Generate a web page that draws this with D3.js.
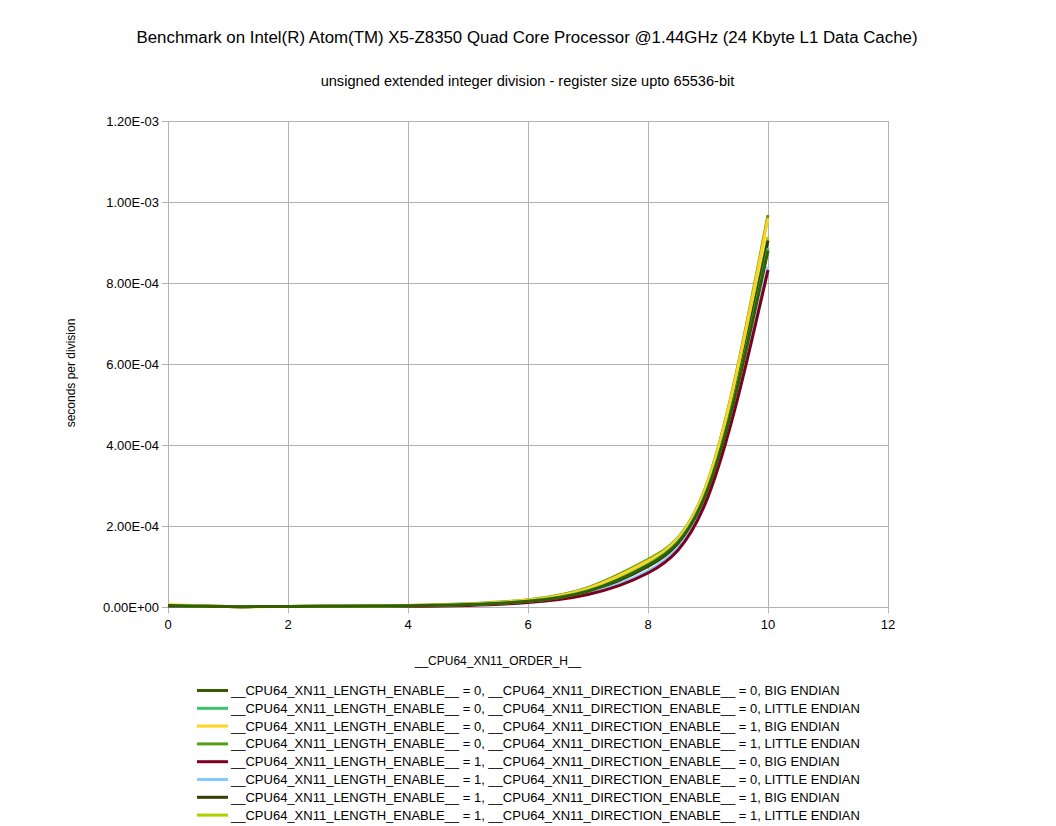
<!DOCTYPE html>
<html>
<head>
<meta charset="utf-8">
<script src="https://cdn.jsdelivr.net/npm/d3@7"></script>
<style>
body { margin: 0; background: #fff; }
text { font-family: "Liberation Sans", Arial, sans-serif; fill: #000; }
</style>
</head>
<body>
<div id="chart"></div>
<script>
// chart size
var w = 1056;
var h = 826;

var xValues = [0, 1, 2, 3, 4, 5, 6, 7, 8, 9, 10];

var seriesNames = [
	"__CPU64_XN11_LENGTH_ENABLE__ = 0, __CPU64_XN11_DIRECTION_ENABLE__ = 0, BIG ENDIAN",
	"__CPU64_XN11_LENGTH_ENABLE__ = 0, __CPU64_XN11_DIRECTION_ENABLE__ = 0, LITTLE ENDIAN",
	"__CPU64_XN11_LENGTH_ENABLE__ = 0, __CPU64_XN11_DIRECTION_ENABLE__ = 1, BIG ENDIAN",
	"__CPU64_XN11_LENGTH_ENABLE__ = 0, __CPU64_XN11_DIRECTION_ENABLE__ = 1, LITTLE ENDIAN",
	"__CPU64_XN11_LENGTH_ENABLE__ = 1, __CPU64_XN11_DIRECTION_ENABLE__ = 0, BIG ENDIAN",
	"__CPU64_XN11_LENGTH_ENABLE__ = 1, __CPU64_XN11_DIRECTION_ENABLE__ = 0, LITTLE ENDIAN",
	"__CPU64_XN11_LENGTH_ENABLE__ = 1, __CPU64_XN11_DIRECTION_ENABLE__ = 1, BIG ENDIAN",
	"__CPU64_XN11_LENGTH_ENABLE__ = 1, __CPU64_XN11_DIRECTION_ENABLE__ = 1, LITTLE ENDIAN"
];

var s1 = [3.5e-6, 1.0e-6, 1.5e-6, 2.0e-6, 3.0e-6, 6.0e-6, 1.4e-5, 3.9e-5, 1.03e-4, 2.92e-4, 8.80e-4];
var s2 = [3.5e-6, 1.0e-6, 1.5e-6, 2.0e-6, 3.0e-6, 6.0e-6, 1.4e-5, 4.0e-5, 1.05e-4, 2.95e-4, 8.86e-4];
var s3 = [6.0e-6, 1.0e-6, 1.5e-6, 2.0e-6, 4.0e-6, 7.5e-6, 1.7e-5, 4.6e-5, 1.14e-4, 3.10e-4, 9.60e-4];
var s4 = [4.0e-6, 1.0e-6, 1.5e-6, 2.0e-6, 3.5e-6, 8.0e-6, 1.8e-5, 4.8e-5, 1.17e-4, 3.12e-4, 9.68e-4];
var s5 = [2.5e-6, 1.0e-6, 1.2e-6, 1.8e-6, 2.0e-6, 4.0e-6, 1.1e-5, 3.1e-5, 8.4e-5, 2.72e-4, 8.32e-4];
var s6 = [2.5e-6, 1.0e-6, 1.2e-6, 1.8e-6, 2.5e-6, 5.0e-6, 1.2e-5, 3.4e-5, 8.9e-5, 2.78e-4, 8.40e-4];
var s7 = [3.0e-6, 1.0e-6, 1.5e-6, 2.0e-6, 3.0e-6, 6.0e-6, 1.4e-5, 3.8e-5, 1.00e-4, 2.95e-4, 9.05e-4];
var s8 = [3.0e-6, 1.0e-6, 1.5e-6, 2.0e-6, 3.0e-6, 6.0e-6, 1.5e-5, 4.1e-5, 1.06e-4, 3.00e-4, 9.14e-4];

var seriesValues = [s1, s2, s3, s4, s5, s6, s7, s8];

var colors = ["#355e00", "#3bc46c", "#ffd320", "#579d1c", "#7e0021", "#83caff", "#314004", "#aecf00"];

var xTicks = [0, 2, 4, 6, 8, 10, 12];
var yTicks = [0, 2e-4, 4e-4, 6e-4, 8e-4, 1e-3, 1.2e-3];

var plotLeft = 168, plotRight = 888, plotTop = 121, plotBottom = 607;

var x = d3.scaleLinear().domain([0, 12]).range([plotLeft, plotRight]);
var y = d3.scaleLinear().domain([0, 1.2e-3]).range([plotBottom, plotTop]);

var svg = d3.select("#chart")
	.append("svg")
	.attr("width", w)
	.attr("height", h);

//Titles
svg.append("text")
	.attr("x", 527)
	.attr("y", 43)
	.attr("text-anchor", "middle")
	.style("font-size", "16.85px")
	.text("Benchmark on Intel(R) Atom(TM) X5-Z8350 Quad Core Processor @1.44GHz (24 Kbyte L1 Data Cache)");

svg.append("text")
	.attr("x", 527.5)
	.attr("y", 86)
	.attr("text-anchor", "middle")
	.style("font-size", "14.6px")
	.text("unsigned extended integer division - register size upto 65536-bit");

//Grid
svg.append("g")
	.selectAll("line")
	.data(yTicks)
	.enter()
	.append("line")
	.attr("x1", plotLeft - 6)
	.attr("x2", plotRight)
	.attr("y1", function (d) { return Math.round(y(d)) + 0.5; })
	.attr("y2", function (d) { return Math.round(y(d)) + 0.5; })
	.attr("stroke", "#b3b3b3");

svg.append("g")
	.selectAll("line")
	.data(xTicks)
	.enter()
	.append("line")
	.attr("x1", function (d) { return Math.round(x(d)) + 0.5; })
	.attr("x2", function (d) { return Math.round(x(d)) + 0.5; })
	.attr("y1", plotTop)
	.attr("y2", plotBottom + 6)
	.attr("stroke", "#b3b3b3");

//Tick labels
svg.append("g")
	.selectAll("text")
	.data(yTicks)
	.enter()
	.append("text")
	.attr("x", plotLeft - 9)
	.attr("y", function (d) { return y(d) + 4.5; })
	.attr("text-anchor", "end")
	.style("font-size", "13px")
	.text(function (d) {
		return d3.format(".2e")(d).replace("e", "E").replace(/E([+-])(\d)$/, "E$10$2");
	});

svg.append("g")
	.selectAll("text")
	.data(xTicks)
	.enter()
	.append("text")
	.attr("x", function (d) { return x(d); })
	.attr("y", plotBottom + 22)
	.attr("text-anchor", "middle")
	.style("font-size", "13px")
	.text(function (d) { return d; });

//Axis titles
svg.append("text")
	.attr("x", 498)
	.attr("y", 665)
	.attr("text-anchor", "middle")
	.style("font-size", "12px")
	.text("__CPU64_XN11_ORDER_H__");

svg.append("text")
	.attr("transform", "translate(75,373) rotate(-90)")
	.attr("text-anchor", "middle")
	.style("font-size", "12px")
	.text("seconds per division");

//Lines (first series ends up on top)
var line = d3.line()
	.x(function (d, i) { return x(xValues[i]); })
	.y(function (d) { return y(d); })
	.curve(d3.curveNatural);

var order = d3.range(seriesValues.length).reverse();

svg.append("g")
	.selectAll("path")
	.data(order)
	.enter()
	.append("path")
	.attr("d", function (k) { return line(seriesValues[k]); })
	.attr("fill", "none")
	.attr("stroke", function (k) { return colors[k]; })
	.attr("stroke-width", 3);

//Legend
var legend = svg.append("g")
	.selectAll("g")
	.data(seriesNames)
	.enter()
	.append("g")
	.attr("transform", function (d, i) {
		return "translate(197," + (690.5 + i * 17.8) + ")";
	});

legend.append("line")
	.attr("x1", 0)
	.attr("x2", 31)
	.attr("stroke", function (d, i) { return colors[i]; })
	.attr("stroke-width", 3);

legend.append("text")
	.attr("x", 34)
	.attr("y", 4.5)
	.style("font-size", "13px")
	.text(function (d) { return d; });
</script>
</body>
</html>
